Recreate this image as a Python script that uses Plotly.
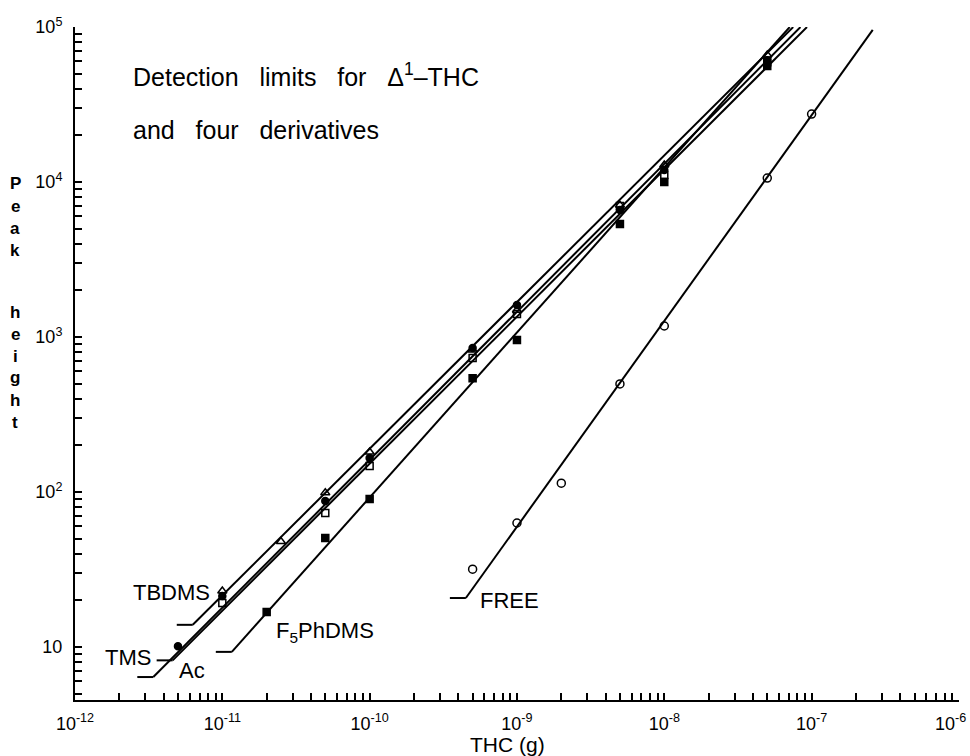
import plotly.graph_objects as go
import math

# ---------------- data ----------------
x_tbdms = [1e-11, 2.5e-11, 5e-11, 1e-10, 5e-10, 1e-9, 5e-9, 1e-8, 5e-8]
y_tbdms = [23, 48, 99, 181, 824, 1490, 7100, 12900, 66000]

x_tms = [5e-12, 1e-11, 5e-11, 1e-10, 5e-10, 1e-9, 5e-9, 1e-8, 5e-8]
y_tms = [10.1, 21.3, 87.5, 166, 850, 1610, 6600, 11950, 61200]

x_ac = [1e-11, 5e-11, 1e-10, 5e-10, 1e-9, 5e-9, 1e-8, 5e-8]
y_ac = [19.2, 73.3, 147, 732, 1406, 7000, 11090, 59400]

x_f5 = [2e-11, 5e-11, 1e-10, 5e-10, 1e-9, 5e-9, 1e-8, 5e-8]
y_f5 = [16.8, 50.5, 90.2, 543, 957, 5360, 10000, 56000]

x_free = [5e-10, 1e-9, 2e-9, 5e-9, 1e-8, 5e-8, 1e-7]
y_free = [31.8, 63.1, 114, 498, 1178, 10610, 27470]

# fitted calibration lines: (start, end)
fit_tbdms_x = [6.3e-12, 7.5e-8]
fit_tbdms_y = [13.9, 1e5]
fit_tms_x = [3.4e-12, 8.4e-8]
fit_tms_y = [6.4, 1e5]
fit_ac_x = [4.6e-12, 9.3e-8]
fit_ac_y = [8.2, 1e5]
fit_f5_x = [1.16e-11, 7.1e-8]
fit_f5_y = [9.3, 1e5]
fit_free_x = [4.5e-10, 2.6e-7]
fit_free_y = [20.7, 9.6e4]

x_decades = [-12, -11, -10, -9, -8, -7, -6]
y_decades = [1, 2, 3, 4, 5]

# ---------------- figure ----------------
FONT = "Liberation Sans, Arial, sans-serif"
fig = go.Figure()

lines = [
    ("TBDMS", fit_tbdms_x, fit_tbdms_y),
    ("TMS", fit_tms_x, fit_tms_y),
    ("Ac", fit_ac_x, fit_ac_y),
    ("F5PhDMS", fit_f5_x, fit_f5_y),
    ("FREE", fit_free_x, fit_free_y),
]
BAR = 10 ** (16 / 147.3)  # short horizontal foot at the start of each line
for name, lx, ly in lines:
    fig.add_trace(go.Scatter(x=lx, y=ly, mode="lines",
                             line=dict(color="black", width=2), showlegend=False,
                             hoverinfo="skip"))
    fig.add_trace(go.Scatter(x=[lx[0] / BAR, lx[0]], y=[ly[0], ly[0]], mode="lines",
                             line=dict(color="black", width=2), showlegend=False,
                             hoverinfo="skip"))

series = [
    ("TBDMS", x_tbdms, y_tbdms, "triangle-up-open", 8),
    ("TMS", x_tms, y_tms, "circle", 7),
    ("Ac", x_ac, y_ac, "square-open", 7),
    ("F5PhDMS", x_f5, y_f5, "square", 7),
    ("FREE", x_free, y_free, "circle-open", 8),
]
for name, sx, sy, sym, sz in series:
    fig.add_trace(go.Scatter(x=sx, y=sy, mode="markers", name=name,
                             marker=dict(symbol=sym, size=sz, color="black",
                                         line=dict(color="black", width=1.5)),
                             showlegend=False))

# tick values: every 1..9 x decade, labels only at decades
def minor_vals(lo, hi):
    v = []
    for d in range(lo, hi):
        for k in range(1, 10):
            v.append(k * 10.0 ** d)
    v.append(10.0 ** hi)
    return v

def labels(vals, fmt, skip_last=False):
    out = []
    for v in vals:
        e = math.log10(v)
        out.append(fmt(round(e)) if abs(e - round(e)) < 1e-9 else "")
    if skip_last:
        out[-1] = ""
    return out

xt = minor_vals(x_decades[0], x_decades[-1])
yt = minor_vals(0, y_decades[-1])
yt = [v for v in yt if v >= 4.5]
TICKFONT = dict(family=FONT, size=18, color="black")
x_fmt = lambda e: "10<sup>%d</sup>" % e
fig.update_xaxes(type="log", range=[-12, -5.9995], tickvals=xt,
                 ticktext=labels(xt, x_fmt, skip_last=True),
                 ticks="inside", ticklen=7, tickwidth=1.5, tickcolor="black",
                 showline=True, linecolor="black", linewidth=2, showgrid=False,
                 zeroline=False, ticklabelstandoff=6, tickfont=TICKFONT,
                 automargin=False)
fig.update_yaxes(type="log", range=[math.log10(4.55), 5.0005], tickvals=yt,
                 ticktext=labels(yt, lambda e: "10" if e == 1 else "10<sup>%d</sup>" % e),
                 ticks="inside", ticklen=7, tickwidth=1.5, tickcolor="black",
                 showline=True, linecolor="black", linewidth=2, showgrid=False,
                 zeroline=False, ticklabelstandoff=7, tickfont=TICKFONT,
                 ticklabeloverflow="allow", automargin=False)

NB = "\u00a0"
ann_font = dict(family=FONT, size=25, color="black")
lab_font = dict(family=FONT, size=22, color="black")


def pxx(px):
    return (px - 75) / 884.0


def pxy(py):
    return (700 - py) / 673.0


# last x tick label, kept inside the page (as in the original)
fig.add_annotation(xref="x", yref="paper", x=x_decades[-1], y=pxy(722),
                   xanchor="right", yanchor="middle", xshift=9, showarrow=False,
                   font=TICKFONT, text=x_fmt(x_decades[-1]))

fig.add_annotation(xref="paper", yref="paper", x=pxx(131), y=pxy(75),
                   xanchor="left", yanchor="middle", showarrow=False, font=ann_font,
                   text="Detection" + NB * 3 + "limits" + NB * 3 + "for" + NB * 3 + "Δ<sup>1</sup>–THC")
fig.add_annotation(xref="paper", yref="paper", x=pxx(131), y=pxy(130),
                   xanchor="left", yanchor="middle", showarrow=False, font=ann_font,
                   text="and" + NB * 3 + "four" + NB * 3 + "derivatives")
# axis titles
fig.add_annotation(xref="paper", yref="paper", x=pxx(507), y=pxy(744),
                   xanchor="center", yanchor="middle", showarrow=False,
                   font=dict(family=FONT, size=21, color="black"), text="THC (g)")
ylab_letters = list("Peak") + list("height")
ylab_pos = [184, 206, 228, 250, 312, 334, 356, 378, 400, 422]
for ch, py in zip(ylab_letters, ylab_pos):
    fig.add_annotation(xref="paper", yref="paper", x=pxx(15), y=pxy(py),
                       xanchor="center", yanchor="middle", showarrow=False,
                       font=dict(family=FONT, size=17, color="black"),
                       text="<b>%s</b>" % ch)

# line labels
def px_to_x(px):
    return -12 + (px - 75) / 147.3


def py_to_y(py):
    return 5 - (py - 27) / 155.0


line_labels = [
    ("TBDMS", 212, 592, "right"),
    ("TMS", 153, 657, "right"),
    ("Ac", 177, 670, "left"),
    ("F<sub>5</sub>PhDMS", 274, 632, "left"),
    ("FREE", 478, 600, "left"),
]
for t, px, py, anc in line_labels:
    fig.add_annotation(x=px_to_x(px), y=py_to_y(py), xref="x", yref="y", text=t,
                       showarrow=False, xanchor=anc, yanchor="middle", font=lab_font)

fig.update_layout(width=970, height=756, margin=dict(l=75, r=11, t=27, b=56),
                  plot_bgcolor="white", paper_bgcolor="white")
fig.write_html("out.html")
